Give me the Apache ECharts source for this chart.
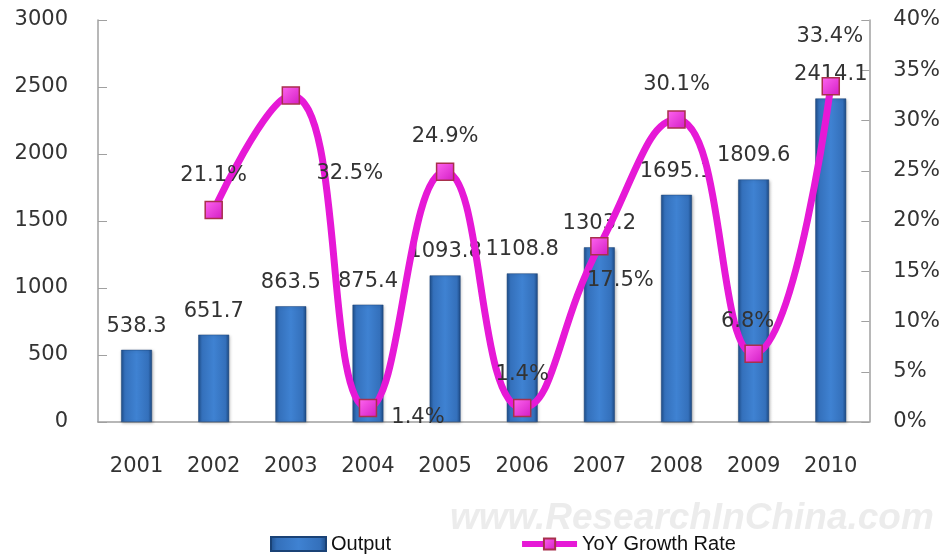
<!DOCTYPE html>
<html>
<head>
<meta charset="utf-8">
<script src="https://cdn.jsdelivr.net/npm/echarts@6/dist/echarts.min.js"></script>
<style>
  html, body { margin: 0; padding: 0; background: #fff; }
  #chart { width: 943px; height: 554px; }
</style>
</head>
<body>
<div id="chart"></div>
<script>
var years = ['2001', '2002', '2003', '2004', '2005', '2006', '2007', '2008', '2009', '2010'];
var output = [538.3, 651.7, 863.5, 875.4, 1093.8, 1108.8, 1303.2, 1695.1, 1809.6, 2414.1];
var growth = [null, 21.1, 32.5, 1.4, 24.9, 1.4, 17.5, 30.1, 6.8, 33.4];

// where Excel put each growth label, relative to its point
var growthLabelOffset = [
    [0, 0], [0, -34], [59, 78], [50, 10], [0, -35],
    [0, -33], [21, 34], [0, -35], [-6, -32], [-1, -50]
];

var myChart = echarts.init(document.getElementById('chart'));

var barColor = {
    type: 'linear', x: 0, y: 0, x2: 1, y2: 0,
    colorStops: [
        { offset: 0, color: '#1f4f8c' },
        { offset: 0.12, color: '#3470bb' },
        { offset: 0.5, color: '#3f82d2' },
        { offset: 0.88, color: '#3470bb' },
        { offset: 1, color: '#1d4a84' }
    ]
};

var markerColor = {
    type: 'linear', x: 0, y: 0, x2: 1, y2: 1,
    colorStops: [
        { offset: 0, color: '#ff66f0' },
        { offset: 1, color: '#d21cc4' }
    ]
};

var growthData = growth.map(function (v, i) {
    return {
        value: v,
        label: {
            position: 'inside',
            offset: growthLabelOffset[i]
        }
    };
});

var axisFont = { fontFamily: 'DejaVu Sans', fontSize: 21, color: '#333' };

var option = {
    backgroundColor: '#fff',
    animation: false,
    grid: {
        left: 98,
        right: 73,
        top: 20,
        bottom: 132
    },
    legend: {
        left: 265,
        top: 529,
        itemGap: 128,
        itemWidth: 55,
        itemHeight: 14,
        textStyle: { fontFamily: 'Liberation Sans', fontSize: 20, color: '#111' },
        data: [
            { name: 'Output', icon: 'rect' },
            { name: 'YoY Growth Rate', lineStyle: { width: 6 } }
        ]
    },
    graphic: [
        {
            type: 'text',
            left: 450,
            top: 500,
            z: -1,
            style: {
                text: 'www.ResearchInChina.com',
                fontFamily: 'Liberation Sans',
                fontSize: 37,
                fontWeight: 'bold',
                fontStyle: 'italic',
                fill: 'rgba(220,220,220,0.55)'
            }
        }
    ],
    xAxis: [
        {
            type: 'category',
            data: years,
            axisLine: { lineStyle: { color: '#a0a0a0', width: 1.5 } },
            axisTick: { inside: true, length: 5, lineStyle: { color: '#a0a0a0' } },
            axisLabel: Object.assign({ margin: 34 }, axisFont)
        }
    ],
    yAxis: [
        {
            type: 'value',
            min: 0,
            max: 3000,
            interval: 500,
            splitLine: { show: false },
            axisLine: { show: true, lineStyle: { color: '#a0a0a0', width: 1.5 } },
            axisTick: { show: true, inside: true, length: 9, lineStyle: { color: '#a0a0a0' } },
            axisLabel: Object.assign({
                margin: 30,
                formatter: function (v) { return String(v); }
            }, axisFont)
        },
        {
            type: 'value',
            min: 0,
            max: 40,
            interval: 5,
            splitLine: { show: false },
            axisLine: { show: true, lineStyle: { color: '#a0a0a0', width: 1.5 } },
            axisTick: { show: true, inside: true, length: 8, lineStyle: { color: '#a0a0a0' } },
            axisLabel: Object.assign({ margin: 24, formatter: '{value}%' }, axisFont)
        }
    ],
    series: [
        {
            name: 'Output',
            type: 'bar',
            barWidth: '40%',
            data: output,
            itemStyle: {
                color: barColor,
                borderColor: '#1a4276',
                borderWidth: 0.5,
                shadowColor: 'rgba(0,0,0,0.25)',
                shadowBlur: 3,
                shadowOffsetX: 1,
                shadowOffsetY: 1
            },
            label: {
                show: true,
                position: 'top',
                distance: 13,
                fontFamily: 'DejaVu Sans',
                fontSize: 21,
                color: '#333'
            }
        },
        {
            name: 'YoY Growth Rate',
            type: 'line',
            yAxisIndex: 1,
            smooth: 0.5,
            data: growthData,
            z: 5,
            symbol: 'rect',
            symbolSize: 17,
            lineStyle: { color: '#e619d6', width: 7 },
            itemStyle: {
                color: markerColor,
                borderColor: '#a8304c',
                borderWidth: 1.5
            },
            label: {
                show: true,
                fontFamily: 'DejaVu Sans',
                fontSize: 21,
                color: '#333',
                formatter: '{c}%'
            }
        }
    ]
};
myChart.setOption(option);
</script>
</body>
</html>
